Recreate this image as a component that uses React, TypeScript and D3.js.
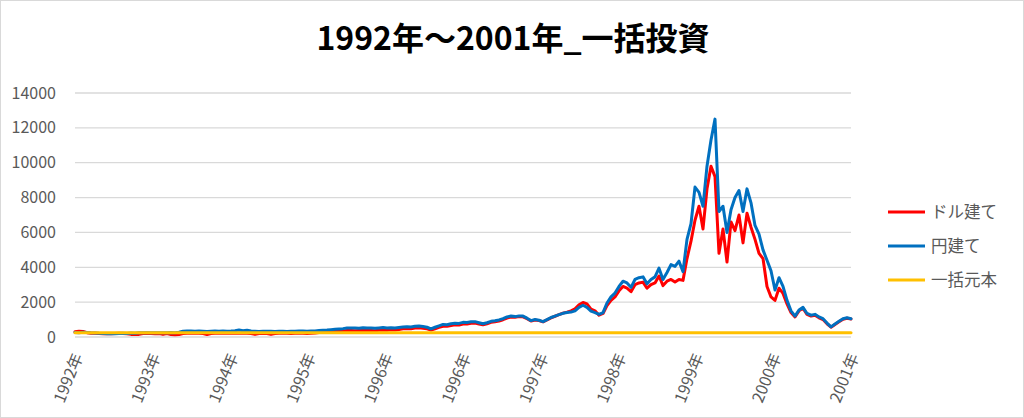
import React from "react";
import * as d3 from "d3";

const title = "1992年～2001年_一括投資";
const xTickLabels = ["1992年", "1993年", "1994年", "1995年", "1996年", "1996年", "1997年", "1998年", "1999年", "2000年", "2001年"];
const yTicks = [0, 2000, 4000, 6000, 8000, 10000, 12000, 14000];
const seriesNames = ["ドル建て", "円建て", "一括元本"];
const seriesColors = ["#FF0000", "#0070C0", "#FFC000"];

const dollarValues = [
  300, 330, 320, 250, 220, 210, 200, 190, 200, 190,
  200, 210, 200, 190, 150, 140, 150, 200, 210, 200,
  190, 200, 150, 200, 140, 130, 140, 200, 220, 210,
  220, 210, 200, 140, 200, 210, 220, 210, 220, 210,
  220, 210, 220, 210, 200, 150, 200, 210, 200, 150,
  200, 210, 220, 210, 200, 210, 220, 210, 200, 210,
  230, 260, 280, 290, 300, 320, 340, 350, 370, 380,
  360, 380, 370, 390, 380, 360, 390, 400, 380, 410,
  400, 430, 470, 480, 470, 510, 530, 500, 470, 400,
  470, 550, 620, 610, 660, 700, 690, 750, 740, 790,
  800, 750, 700, 760, 840, 880, 920, 990, 1090, 1150,
  1130, 1170, 1160, 1050, 920, 970, 940, 870, 980, 1100,
  1190, 1280, 1370, 1430, 1500, 1620, 1850, 1980, 1900, 1600,
  1500, 1250, 1350, 1800, 2100, 2300, 2650, 2900, 2800, 2600,
  3000, 3100, 3150, 2800, 3000, 3100, 3500, 2950, 3200, 3300,
  3150, 3300, 3250, 4500, 5500, 6700, 7500, 6200, 8500, 9800,
  9200, 4800, 6200, 4300, 6600, 6100, 7000, 5400, 7100, 6300,
  5600, 4800, 4500, 2900, 2300, 2100, 2800, 2500, 1900, 1400,
  1150, 1500, 1650, 1300, 1200, 1250, 1100, 1000, 760, 560,
  720, 870, 1020, 1080, 1030,
];

const yenValues = [
  260, 250, 270, 260, 240, 230, 210, 200, 190, 200,
  190, 200, 210, 200, 230, 220, 240, 250, 240, 250,
  240, 250, 240, 250, 260, 250, 270, 330, 340, 340,
  330, 340, 330, 320, 330, 340, 330, 340, 330, 340,
  360, 400, 360, 390, 340, 330, 320, 330, 330, 330,
  320, 330, 330, 320, 330, 330, 340, 340, 330, 340,
  350, 370, 390, 400, 420, 440, 460, 480, 520, 510,
  520, 500, 530, 510, 520, 500, 520, 540, 510, 530,
  520, 550, 580, 590, 570, 620, 630, 600, 560, 470,
  560, 640, 720, 700, 760, 790, 780, 840, 830, 870,
  880, 820, 760, 820, 900, 930, 980, 1050, 1150, 1200,
  1170, 1210, 1200, 1080, 940, 1000, 960, 880, 1000, 1120,
  1200, 1280, 1360, 1400, 1430, 1500, 1700, 1820, 1700, 1480,
  1400, 1300, 1400, 1950, 2300, 2520, 2900, 3200, 3100, 2850,
  3300, 3400, 3450, 3050, 3300, 3450, 3950, 3300, 3700, 4150,
  4050, 4350, 3750, 5600, 6500, 8600, 8300, 7500, 9800, 11300,
  12500, 7200, 7500, 6000, 7300, 8000, 8400, 7200, 8500, 7700,
  6400, 5900, 5000, 4400, 3800, 2700, 3400, 2900, 2100, 1500,
  1200, 1550, 1700, 1350, 1250, 1300, 1150, 1050, 800, 580,
  750, 900, 1050, 1100, 1050,
];

const principalValues = yenValues.map(() => 250);

const W = 1024;
const H = 418;
const plot = { left: 75, right: 851, top: 93, bottom: 337 };
const font = "'Noto Sans CJK JP', 'Noto Sans', sans-serif";

export default function App() {
  const n = yenValues.length;
  const x = d3.scaleLinear().domain([0, n - 1]).range([plot.left, plot.right]);
  const xCat = d3
    .scalePoint<number>()
    .domain(xTickLabels.map((_, i) => i))
    .range([plot.left, plot.right]);
  const y = d3.scaleLinear().domain([0, 14000]).range([plot.bottom, plot.top]);
  const line = d3
    .line<number>()
    .x((_, i) => x(i))
    .y((d) => y(d));

  const series = [dollarValues, yenValues, principalValues];

  return (
    <svg
      width={W}
      height={H}
      style={{ position: "absolute", left: 0, top: 0, background: "#fff" }}
      fontFamily={font}
    >
      <rect x={0.5} y={0.5} width={W - 1} height={H - 1} fill="#fff" stroke="#D9D9D9" />
      <text x={513} y={50} textAnchor="middle" fontSize={32} fontWeight="bold" fill="#000">
        {title}
      </text>
      {yTicks.map((t) => (
        <g key={t}>
          <line x1={plot.left} x2={plot.right} y1={y(t)} y2={y(t)} stroke="#D9D9D9" strokeWidth={1.3} />
          <text x={56} y={y(t)} dy="0.35em" textAnchor="end" fontSize={16} fill="#595959">
            {t}
          </text>
        </g>
      ))}
      {series.map((s, k) => (
        <path
          key={k}
          d={line(s) || ""}
          fill="none"
          stroke={seriesColors[k]}
          strokeWidth={3}
          strokeLinejoin="round"
          strokeLinecap="round"
        />
      ))}
      {xTickLabels.map((lab, i) => (
        <text
          key={i}
          transform={`translate(${(xCat(i) as number) + 3},354) rotate(-68)`}
          textAnchor="end"
          dy="0.35em"
          fontSize={16}
          fill="#595959"
        >
          {lab}
        </text>
      ))}
      {seriesNames.map((name, k) => (
        <g key={name} transform={`translate(888,${212 + k * 34})`}>
          <line x1={0} x2={37} y1={0} y2={0} stroke={seriesColors[k]} strokeWidth={3} />
          <text x={43} y={0} dy="0.35em" fontSize={16.5} fill="#595959">
            {name}
          </text>
        </g>
      ))}
    </svg>
  );
}
